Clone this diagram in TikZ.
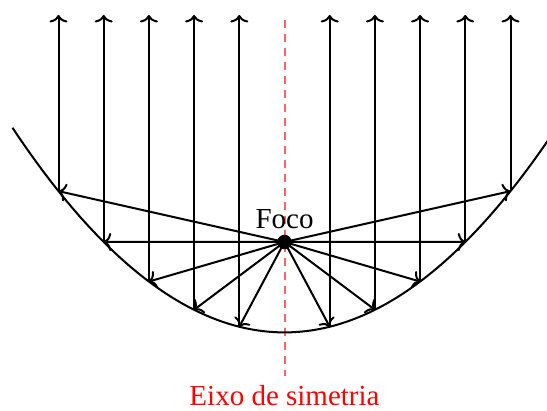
\documentclass[tikz,border=0pt]{standalone}
\usepackage{fontspec}
\setmainfont{Liberation Serif}
\usetikzlibrary{arrows.meta}
\begin{document}
\begin{tikzpicture}[x=1pt,y=-1pt,
  ray/.style={line width=2pt,-{To[length=7.5pt,width=18pt]}},
  curve/.style={line width=2pt},
  axisline/.style={draw={rgb,255:red,255;green,100;blue,100},line width=2pt,dash pattern=on 8pt off 6pt},
  lbl/.style={font=\fontsize{29}{33}\selectfont,inner sep=0pt,anchor=base}]
\useasboundingbox (0,0) rectangle (547,411);
\def\cx{284.5}\def\s{45.2}\def\fy{242}\def\f{90.4}\def\q{27.655}
\coordinate (A1) at (\cx,20);
\coordinate (A2) at (\cx,376);
\draw[axisline] (A1) -- (A2);
\begin{scope}
\clip (0,0) rectangle (547,411);
\draw[curve] plot[domain=-272:275,samples=150] ({\cx+\x},{\fy+\f-(\x/100)*(\x/100)*\q});
\end{scope}
\coordinate (F) at (\cx,\fy);
\foreach \k in {-5,-4,-3,-2,-1,1,2,3,4,5} {
  \coordinate (P\k) at ({\cx+\k*\s},{\fy+\f-(\k*\s/100)*(\k*\s/100)*\q});
  \coordinate (T\k) at ({\cx+\k*\s},15);
  \draw[ray] (F) -- (P\k);
  \draw[ray] (P\k) -- (T\k);
}
\node[circle,fill,inner sep=0pt,minimum size=14.5pt] (dot) at (F) {};
\node[lbl] (foco) at (\cx,229) {Foco};
\node[lbl,text=red] (eixo) at (\cx,406) {Eixo de simetria};
\end{tikzpicture}
\end{document}
